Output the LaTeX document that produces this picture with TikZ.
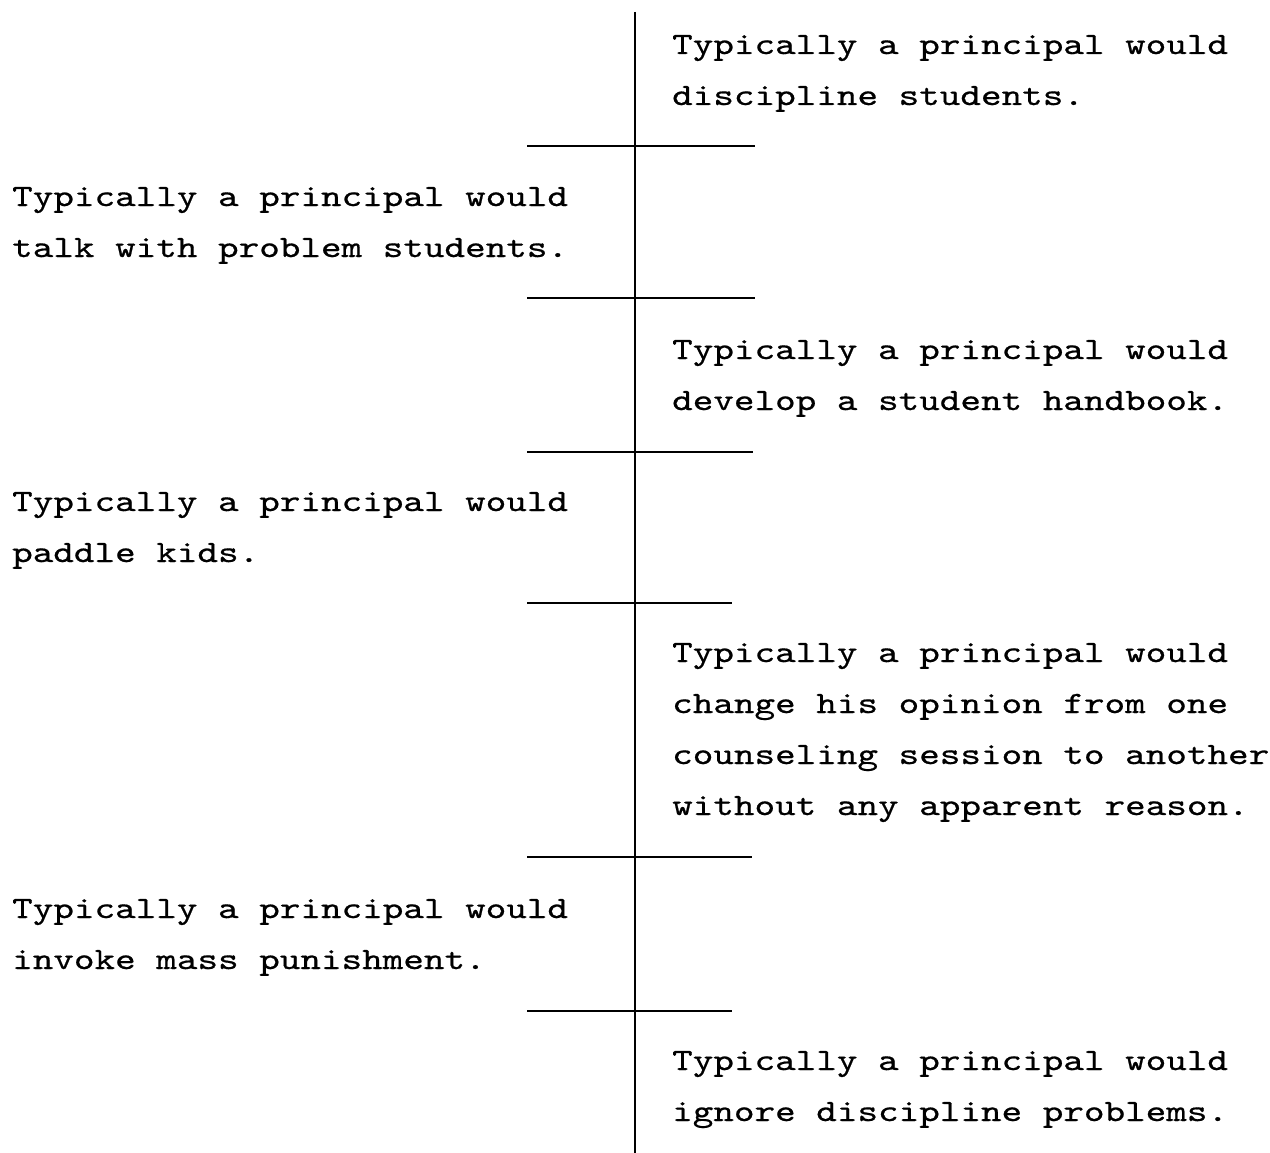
\documentclass[tikz,border=0pt]{standalone}
\usepackage{fontspec}
% wide, slightly heavy typewriter face
\newfontfamily\typewriter{lmmono10-regular.otf}[FakeStretch=1.265,FakeBold=0.6]
\begin{document}
\begin{tikzpicture}[x=1pt,y=-1pt,
  item/.style={anchor=base west,inner sep=0pt,align=left,
    font=\typewriter\fontsize{31}{51}\selectfont},
  rule/.style={line width=2.6pt,black}]
\useasboundingbox (0,0) rectangle (1270,1153);
% central axis
\coordinate (axtop) at (635,12);
\coordinate (axbot) at (635,1153);
\draw[rule] (axtop) -- (axbot);
% cross ticks
\foreach \n/\y/\r in {1/146/755,2/298/755,3/452/753,4/603/732,5/857/752,6/1011/732}{
  \coordinate (tl\n) at (527,\y);
  \coordinate (tr\n) at (\r,\y);
  \draw[rule] (tl\n) -- (tr\n);
}
% statements (anchored at the baseline of their last line)
\node[item] (s1) at (672,105) {Typically a principal would\\discipline students.};
\node[item] (s2) at (12,257) {Typically a principal would\\talk with problem students.};
\node[item] (s3) at (672,410) {Typically a principal would\\develop a student handbook.};
\node[item] (s4) at (12,562) {Typically a principal would\\paddle kids.};
\node[item] (s5) at (672,815) {Typically a principal would\\change his opinion from one\\counseling session to another\\without any apparent reason.};
\node[item] (s6) at (12,969) {Typically a principal would\\invoke mass punishment.};
\node[item] (s7) at (672,1121) {Typically a principal would\\ignore discipline problems.};
\end{tikzpicture}
\end{document}
